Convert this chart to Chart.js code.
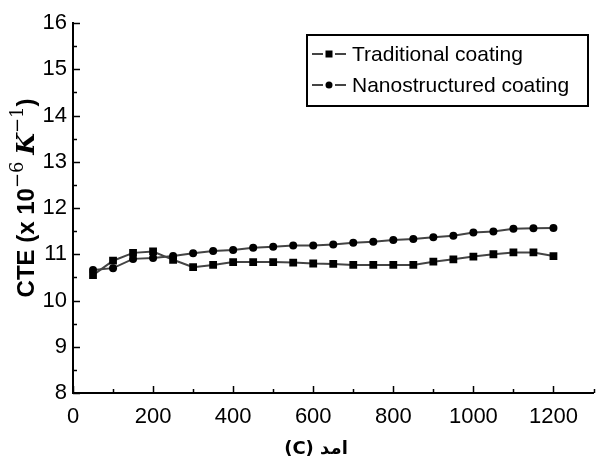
<!DOCTYPE html>
<html>
<head>
<meta charset="utf-8">
<script src="https://cdn.jsdelivr.net/npm/chart.js@4.4.1/dist/chart.umd.min.js"></script>
<style>
  html, body { margin: 0; padding: 0; background: #fff; }
  #wrap { width: 599px; height: 467px; }
</style>
</head>
<body>
<div id="wrap"><canvas id="mycanvas"></canvas></div>
<script>
// temperature (C)
const temps = [50, 100, 150, 200, 250, 300, 350, 400, 450, 500, 550, 600,
               650, 700, 750, 800, 850, 900, 950, 1000, 1050, 1100, 1150, 1200];
// CTE values (x 10^-6 K^-1)
const traditional = [10.55, 10.86, 11.03, 11.06, 10.88, 10.72, 10.77, 10.83, 10.83, 10.83, 10.82, 10.80,
                     10.79, 10.77, 10.77, 10.77, 10.77, 10.84, 10.89, 10.95, 11.00, 11.04, 11.04, 10.96];
const nano = [10.66, 10.70, 10.90, 10.92, 10.96, 11.02, 11.07, 11.09, 11.14, 11.16, 11.19, 11.19,
              11.21, 11.25, 11.27, 11.31, 11.33, 11.37, 11.40, 11.47, 11.49, 11.55, 11.56, 11.57];
const seriesNames = ["Traditional coating", "Nanostructured coating"];
const xTicks = [0, 200, 400, 600, 800, 1000, 1200];
const yTicks = [8, 9, 10, 11, 12, 13, 14, 15, 16];

const tickFont = "'Liberation Sans', Arial, sans-serif";

function pts(ys) {
  return temps.map((t, i) => ({ x: t, y: ys[i] }));
}

// inward tick marks, axis titles and boxed legend
const decor = {
  id: 'decor',
  afterDraw(chart) {
    const ctx = chart.ctx;
    const xs = chart.scales.x, ys = chart.scales.y;
    const a = chart.chartArea;
    ctx.save();
    ctx.strokeStyle = '#000';
    ctx.lineWidth = 1.5;
    // x ticks: major every 200, minor every 100
    for (let v = 0; v <= 1300; v += 100) {
      const px = Math.round(xs.getPixelForValue(v)) + 0.5;
      const len = (v % 200 === 0) ? 7 : 4;
      ctx.beginPath(); ctx.moveTo(px, a.bottom); ctx.lineTo(px, a.bottom - len); ctx.stroke();
    }
    // y ticks: major every 1, minor every 0.5
    for (let v = 8; v <= 16; v += 0.5) {
      const py = Math.round(ys.getPixelForValue(v)) + 0.5;
      const len = (v % 1 === 0) ? 7 : 4;
      ctx.beginPath(); ctx.moveTo(a.left, py); ctx.lineTo(a.left + len, py); ctx.stroke();
    }

    // y title with superscripts
    ctx.save();
    ctx.translate(27, 198);
    ctx.rotate(-Math.PI / 2);
    ctx.fillStyle = '#000';
    ctx.textBaseline = 'middle';
    const parts = [
      { t: 'CTE (x 10', f: "bold 24px 'Liberation Sans', Arial, sans-serif", dy: 0 },
      { t: '\u22126', f: "18px 'DejaVu Serif', serif", dy: -9 },
      { t: ' ', f: "bold 24px 'Liberation Sans', Arial, sans-serif", dy: 0 },
      { t: 'K', f: "italic bold 25px 'DejaVu Serif', serif", dy: 0 },
      { t: '\u22121', f: "18px 'DejaVu Serif', serif", dy: -9 },
      { t: ')', f: "bold 24px 'Liberation Sans', Arial, sans-serif", dy: 0 }
    ];
    let total = 0;
    parts.forEach(p => { ctx.font = p.f; p.w = ctx.measureText(p.t).width; total += p.w; });
    let cx = -total / 2;
    parts.forEach(p => {
      ctx.font = p.f; ctx.textAlign = 'left';
      ctx.fillText(p.t, cx, p.dy);
      cx += p.w;
    });
    ctx.restore();

    // x title (Arabic word laid out left-to-right as in the source figure)
    ctx.fillStyle = '#000';
    ctx.font = "bold 18px 'DejaVu Sans', sans-serif";
    ctx.textAlign = 'center';
    ctx.textBaseline = 'middle';
    ctx.fillText('(C) \u202D\u062F\u0645\u0627\u202C', 316, 449);

    // legend box
    const bx = 307, by = 35, bw = 281, bh = 71;
    ctx.lineWidth = 2;
    ctx.strokeStyle = '#000';
    ctx.strokeRect(bx, by, bw, bh);
    chart.data.datasets.forEach((ds, i) => {
      const ly = by + 19 + i * 31;
      ctx.strokeStyle = ds.borderColor;
      ctx.lineWidth = 2;
      ctx.beginPath(); ctx.moveTo(bx + 5, ly); ctx.lineTo(bx + 16, ly); ctx.stroke();
      ctx.beginPath(); ctx.moveTo(bx + 28, ly); ctx.lineTo(bx + 39, ly); ctx.stroke();
      ctx.fillStyle = '#000';
      ctx.beginPath();
      if (ds.pointStyle === 'rect') ctx.rect(bx + 18.5, ly - 3.5, 7, 7);
      else ctx.arc(bx + 22, ly, 3.5, 0, Math.PI * 2);
      ctx.fill();
      ctx.font = "21px " + tickFont;
      ctx.textAlign = 'left';
      ctx.textBaseline = 'middle';
      ctx.fillText(ds.label, bx + 45, ly + 1);
    });
    ctx.restore();
  }
};

const chartdata = {
  datasets: [
    {
      label: seriesNames[0],
      data: pts(traditional),
      borderColor: '#444',
      borderWidth: 2,
      pointStyle: 'rect',
      pointRadius: 5.5,
      pointBackgroundColor: '#000',
      pointBorderColor: '#000',
      pointBorderWidth: 0
    },
    {
      label: seriesNames[1],
      data: pts(nano),
      borderColor: '#444',
      borderWidth: 2,
      pointStyle: 'circle',
      pointRadius: 4,
      pointBackgroundColor: '#000',
      pointBorderColor: '#000',
      pointBorderWidth: 0
    }
  ]
};

new Chart(document.getElementById('mycanvas').getContext('2d'), {
  type: 'line',
  data: chartdata,
  plugins: [decor],
  options: {
    responsive: true,
    maintainAspectRatio: false,
    animation: false,
    layout: { padding: { top: 23, right: 2, left: 0, bottom: 0 } },
    plugins: {
      legend: { display: false },
      tooltip: { enabled: false }
    },
    scales: {
      x: {
        type: 'linear',
        min: 0, max: 1300,
        afterFit: s => { s.height = 74; },
        afterBuildTicks: s => { s.ticks = xTicks.map(v => ({ value: v })); },
        grid: { display: false, drawTicks: false },
        border: { display: true, color: '#000', width: 2 },
        ticks: {
          color: '#000',
          font: { family: tickFont, size: 22 },
          padding: 11,
          maxRotation: 0,
          autoSkip: false,
          callback: v => String(v)
        }
      },
      y: {
        min: 8, max: 16,
        afterFit: s => { s.width = 73; },
        afterBuildTicks: s => { s.ticks = yTicks.map(v => ({ value: v })); },
        grid: { display: false, drawTicks: false },
        border: { display: true, color: '#000', width: 2 },
        ticks: {
          color: '#000',
          font: { family: tickFont, size: 22 },
          padding: 6,
          callback: v => String(v)
        }
      }
    }
  }
});
</script>
</body>
</html>
